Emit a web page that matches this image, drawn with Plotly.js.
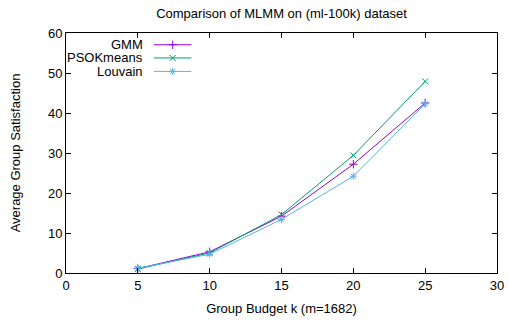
<!DOCTYPE html>
<html>
<head>
<meta charset="utf-8">
<script src="https://cdn.plot.ly/plotly-3.0.1.min.js"></script>
<style>html,body{margin:0;padding:0;background:#fff;}#chart{width:509px;height:322px;}</style>
</head>
<body>
<div id="chart"></div>
<script>
// Data
const budgets = [5, 10, 15, 20, 25];
const gmm = [1.1, 5.3, 14.2, 27.2, 42.5];
const psoKmeans = [1.0, 5.0, 14.6, 29.4, 47.9];
const louvain = [1.2, 4.7, 13.4, 24.2, 42.3];
const seriesNames = ['GMM', 'PSOKmeans', 'Louvain'];
const seriesColors = ['#9400d3', '#009e73', '#56b4e9'];
const seriesSymbols = ['cross-thin-open', 'x-thin-open', 'asterisk-open'];
const xTicks = [0, 5, 10, 15, 20, 25, 30];
const yTicks = [0, 10, 20, 30, 40, 50, 60];

const FONT = 'Liberation Sans, Arial, sans-serif';
const allSeries = [gmm, psoKmeans, louvain];

const traces = allSeries.map((vals, i) => ({
  x: budgets, y: vals, type: 'scatter', mode: 'lines+markers',
  name: seriesNames[i], showlegend: false,
  line: {color: seriesColors[i], width: 1},
  marker: {symbol: seriesSymbols[i], size: 6, color: seriesColors[i], line: {color: seriesColors[i], width: 1}}
}));

// Custom gnuplot-style key (text right-aligned, sample to the right)
const keyRows = [0.951, 0.896, 0.840];
const keyTextX = 0.183, keyLineX0 = 0.204, keyLineX1 = 0.291;
const annotations = [];
const shapes = [];
seriesNames.forEach((n, i) => {
  annotations.push({xref: 'paper', yref: 'paper', x: keyTextX, y: keyRows[i], text: n,
    showarrow: false, xanchor: 'right', yanchor: 'middle', font: {family: FONT, size: 13, color: '#000'}});
  shapes.push({type: 'line', xref: 'paper', yref: 'paper', x0: keyLineX0, x1: keyLineX1, y0: keyRows[i], y1: keyRows[i],
    line: {color: seriesColors[i], width: 1}});
  traces.push({x: [(keyLineX0 + keyLineX1) / 2], y: [keyRows[i]], xaxis: 'x2', yaxis: 'y2', type: 'scatter', mode: 'markers',
    showlegend: false, hoverinfo: 'skip',
    marker: {symbol: seriesSymbols[i], size: 6, color: seriesColors[i], line: {color: seriesColors[i], width: 1}}});
});

const axisCommon = {
  showline: true, mirror: 'ticks', linecolor: '#000', linewidth: 1,
  ticks: 'inside', ticklen: 5, tickcolor: '#000', tickwidth: 1,
  showgrid: false, zeroline: false,
  tickfont: {family: FONT, size: 13, color: '#000'}
};

const layout = {
  width: 509, height: 322,
  margin: {l: 66, r: 12, t: 33, b: 49},
  paper_bgcolor: '#fff', plot_bgcolor: '#fff',
  showlegend: false,
  title: {text: 'Comparison of MLMM on (ml-100k) dataset', font: {family: FONT, size: 13, color: '#000'},
    x: 0.5, xref: 'paper', xanchor: 'center', y: 1 - 13 / 322, yref: 'container', yanchor: 'middle'},
  xaxis: Object.assign({}, axisCommon, {range: [0, 30], tickvals: xTicks, ticktext: xTicks.map(String),
    title: {text: 'Group Budget k (m=1682)', font: {family: FONT, size: 13, color: '#000'}, standoff: 12}}),
  yaxis: Object.assign({}, axisCommon, {range: [0, 60], tickvals: yTicks, ticktext: yTicks.map(String),
    title: {text: 'Average Group Satisfaction', font: {family: FONT, size: 13, color: '#000'}, standoff: 24}}),
  xaxis2: {overlaying: 'x', range: [0, 1], visible: false, fixedrange: true},
  yaxis2: {overlaying: 'y', range: [0, 1], visible: false, fixedrange: true},
  annotations: annotations,
  shapes: shapes
};

Plotly.newPlot('chart', traces, layout, {displayModeBar: false, staticPlot: true});
</script>
</body>
</html>
